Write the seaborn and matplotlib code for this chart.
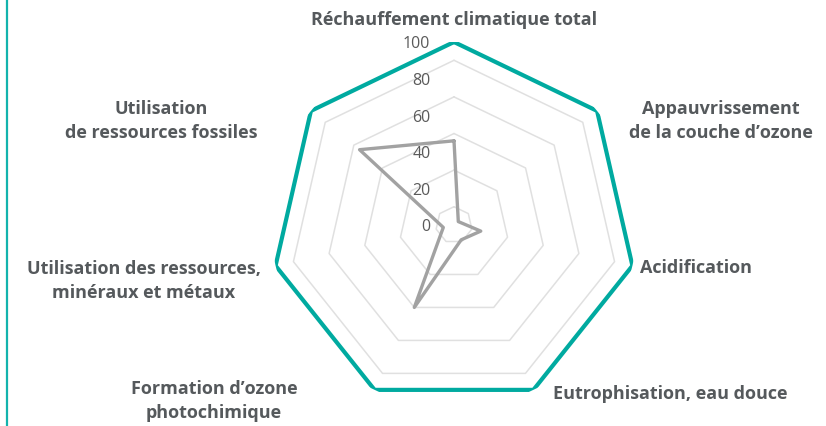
import numpy as np
import pandas as pd
import matplotlib
matplotlib.use("Agg")
import matplotlib.pyplot as plt
import seaborn as sns

categories = [
    "Réchauffement climatique total",
    "Appauvrissement\nde la couche d’ozone",
    "Acidification",
    "Eutrophisation, eau douce",
    "Formation d’ozone\nphotochimique",
    "Utilisation des ressources,\nminéraux et métaux",
    "Utilisation\nde ressources fossiles",
]
reference_values = [100, 100, 100, 100, 100, 100, 100]
product_values = [46, 3, 15, 9, 50, 6, 66]
tick_values = [0, 20, 40, 60, 80, 100]
grid_levels = [10, 30, 50, 70, 90]

sns.set_theme(style="white")
plt.rcParams["font.family"] = ["Open Sans", "DejaVu Sans"]

TEAL = "#00aaa0"
GRAY = "#a2a2a2"
TEXT = "#55595c"

W, H = 826, 427
fig = plt.figure(figsize=(W / 100, H / 100), dpi=100)
cx, cy, R = 454, 226, 183
ax = fig.add_axes([(cx - R) / W, (H - cy - R) / H, 2 * R / W, 2 * R / H],
                  projection="polar")
ax.set_theta_offset(np.pi / 2)
ax.set_theta_direction(-1)
ax.set_ylim(0, 100)
ax.grid(False)
ax.spines["polar"].set_visible(False)
ax.set_xticks([])
ax.set_yticks([])
ax.set_facecolor("none")

n = len(categories)
theta = np.linspace(0, 2 * np.pi, n, endpoint=False)
theta_c = np.append(theta, theta[0])

# polygon grid rings
for lv in grid_levels:
    ax.plot(theta_c, [lv] * (n + 1), color="#e0e0e0", lw=1.1, zorder=1)

df_ref = pd.DataFrame({"theta": theta_c, "value": reference_values + reference_values[:1]})
df_prod = pd.DataFrame({"theta": theta_c, "value": product_values + product_values[:1]})

sns.lineplot(data=df_ref, x="theta", y="value", sort=False, estimator=None,
             color=TEAL, lw=3.0, ax=ax, zorder=4)
sns.lineplot(data=df_prod, x="theta", y="value", sort=False, estimator=None,
             color=GRAY, lw=2.4, ax=ax, zorder=3)
ax.set_xlabel("")
ax.set_ylabel("")
ax.set_ylim(0, 100)

# tick labels along the top axis (left of it)
for t in tick_values:
    ax.annotate(str(t), xy=(0, t), xytext=(-17, -1), textcoords="offset points",
                ha="right", va="center", fontsize=11.5, color="#5a5a5a",
                fontweight="normal", zorder=5)

# category labels (figure pixel positions)
label_pos = [
    (454, 20, "center"),
    (721, 121, "center"),
    (640, 268, "left"),
    (553, 394, "left"),
    (214, 401, "center"),
    (144, 281, "center"),
    (161, 121, "center"),
]
for lab, (x, y, ha) in zip(categories, label_pos):
    fig.text(x / W, 1 - y / H, lab, ha=ha, va="center", multialignment="center",
             fontsize=13, fontweight="bold", color=TEXT, linespacing=1.4)

# left vertical accent line
fig.add_artist(plt.Line2D([6.5 / W, 6.5 / W], [0, 1], color="#13b3ad", lw=1.6,
                          transform=fig.transFigure))

fig.savefig("out.png", dpi=100)
